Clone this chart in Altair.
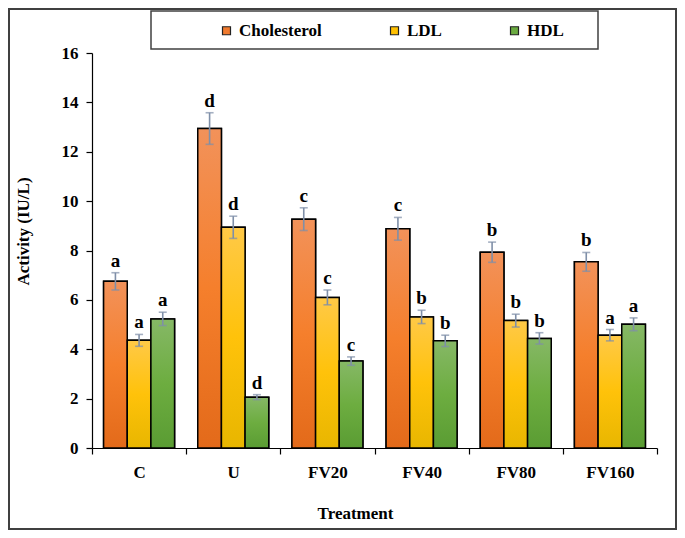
import altair as alt
import pandas as pd

treatments = ["C", "U", "FV20", "FV40", "FV80", "FV160"]
series = ["Cholesterol", "LDL", "HDL"]

chol = [6.75, 12.94, 9.27, 8.88, 7.93, 7.54]
chol_err = [0.35, 0.64, 0.46, 0.46, 0.41, 0.38]
chol_let = ["a", "d", "c", "c", "b", "b"]

ldl = [4.36, 8.94, 6.10, 5.31, 5.16, 4.57]
ldl_err = [0.24, 0.45, 0.30, 0.27, 0.26, 0.23]
ldl_let = ["a", "d", "c", "b", "b", "a"]

hdl = [5.23, 2.06, 3.52, 4.34, 4.44, 5.01]
hdl_err = [0.27, 0.10, 0.17, 0.23, 0.23, 0.26]
hdl_let = ["a", "d", "c", "b", "b", "a"]

rows = []
for s, vals, errs, lets in [("Cholesterol", chol, chol_err, chol_let),
                            ("LDL", ldl, ldl_err, ldl_let),
                            ("HDL", hdl, hdl_err, hdl_let)]:
    for t, v, e, l in zip(treatments, vals, errs, lets):
        rows.append({"Treatment": t, "Series": s, "Value": v,
                     "lo": v - e, "hi": v + e, "Letter": l})
df = pd.DataFrame(rows)

FONT = "Liberation Serif"
EB = "#7F8FA8"
solid = ["#F07A2E", "#FFC000", "#6AAA40"]
grads = {
    "Cholesterol": ["#F2925A", "#F57F2C", "#E36A1A"],
    "LDL": ["#FFC947", "#FFC20A", "#E8B600"],
    "HDL": ["#86B866", "#6DAD40", "#5A9C33"],
}

def gradient(cols):
    return {"gradient": "linear", "x1": 0, "x2": 0, "y1": 0, "y2": 1,
            "stops": [{"offset": 0, "color": cols[0]},
                      {"offset": 0.5, "color": cols[1]},
                      {"offset": 1, "color": cols[2]}]}

YT = "Activity (IU/L)"
yscale = alt.Scale(domain=[0, 16])

base = alt.Chart(df).encode(
    x=alt.X("Treatment:N", sort=treatments, title="Treatment",
            scale=alt.Scale(paddingInner=0, paddingOuter=0)),
    xOffset=alt.XOffset("Series:N", sort=series,
                        scale=alt.Scale(domain=series, paddingInner=0, paddingOuter=0.49)),
)

legend_bars = base.mark_bar(stroke="black", strokeWidth=1.5).encode(
    y=alt.Y("Value:Q", scale=yscale, title=YT,
            axis=alt.Axis(values=list(range(0, 17, 2)))),
    color=alt.Color("Series:N", sort=series,
                    scale=alt.Scale(domain=series, range=solid),
                    legend=alt.Legend(title=None, orient="none", legendX=126, legendY=-31,
                                      direction="horizontal", columns=3,
                                      symbolType="square", symbolSize=64,
                                      symbolStrokeColor="#222", symbolStrokeWidth=1.2,
                                      symbolOpacity=1,
                                      labelFont=FONT, labelFontSize=17,
                                      labelFontWeight="bold", labelColor="black",
                                      columnPadding=64, labelOffset=4, padding=0)),
)

grad_layers = []
for s in series:
    grad_layers.append(
        base.transform_filter(alt.datum.Series == s)
        .mark_bar(color=gradient(grads[s]), stroke="black", strokeWidth=1.5)
        .encode(y=alt.Y("Value:Q", scale=yscale, title=YT))
    )

rules = base.mark_rule(color=EB, strokeWidth=1.6).encode(
    y=alt.Y("lo:Q", scale=yscale, title=YT), y2="hi:Q")
cap_lo = base.mark_tick(color=EB, thickness=1.6, size=8).encode(
    y=alt.Y("lo:Q", scale=yscale, title=YT))
cap_hi = base.mark_tick(color=EB, thickness=1.6, size=8).encode(
    y=alt.Y("hi:Q", scale=yscale, title=YT))
letters = base.mark_text(font=FONT, fontSize=19, fontWeight="bold", color="black",
                         baseline="alphabetic", dy=-6).encode(
    y=alt.Y("hi:Q", scale=yscale, title=YT), text="Letter:N")

one = pd.DataFrame({"k": [0]})
frame = alt.Chart(one).mark_rect(fill="transparent", stroke="#404040", strokeWidth=2).encode(
    x=alt.value(-83), x2=alt.value(584), y=alt.value(-44), y2=alt.value(476))
legbox = alt.Chart(one).mark_rect(fill="transparent", stroke="#404040", strokeWidth=1.5).encode(
    x=alt.value(59), x2=alt.value(506), y=alt.value(-42), y2=alt.value(-4))

chart = alt.layer(legend_bars, *grad_layers, rules, cap_lo, cap_hi, letters, frame, legbox).properties(
    width=565, height=395,
    autosize=alt.AutoSizeParams(type="none"),
    padding={"left": 84, "top": 45, "right": 20, "bottom": 82},
).configure_view(stroke=None).configure_axis(
    labelFont=FONT, labelFontSize=17, labelFontWeight="bold", labelColor="black",
    titleFont=FONT, titleFontSize=17, titleFontWeight="bold", titleColor="black",
    domainColor="black", domainWidth=1.2, tickColor="black", tickWidth=1.2,
    grid=False, tickSize=6,
).configure_axisX(
    labelAngle=0, tickBand="extent", labelPadding=10,
    titleX=263, titleY=65, titleBaseline="middle", titleAlign="center",
).configure_axisY(
    labelPadding=8, titleX=-69, titleY=178, titleBaseline="middle", titleAlign="center",
)

chart.save("out.html", embed_options={"renderer": "svg", "actions": False})
